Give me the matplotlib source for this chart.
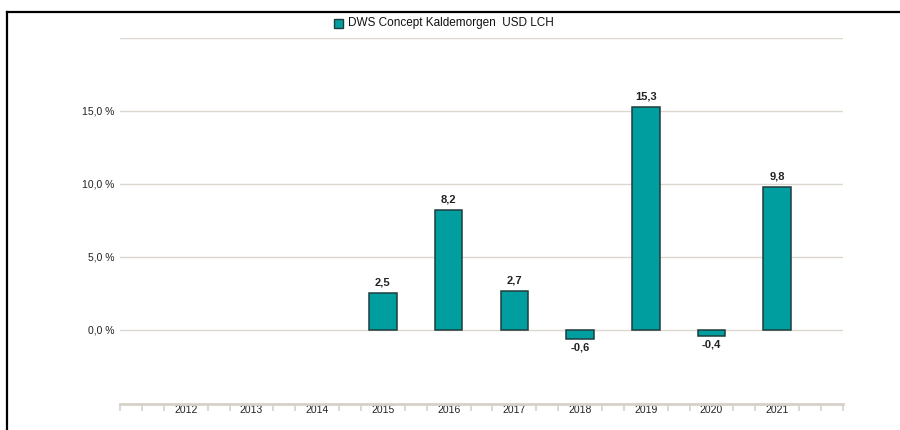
import matplotlib.pyplot as plt
from matplotlib.lines import Line2D
from matplotlib.patches import Rectangle

plt.rcParams['font.family'] = ['Liberation Sans', 'DejaVu Sans']

years = ['2012', '2013', '2014', '2015', '2016', '2017', '2018', '2019', '2020', '2021']
values = [None, None, None, 2.5, 8.2, 2.7, -0.6, 15.3, -0.4, 9.8]
yticks = [0, 5, 10, 15]
series_name = 'DWS Concept Kaldemorgen  USD LCH'

bar_color = '#009e9e'
edge_color = '#1f3d3d'
grid_color = '#dcd8d0'

fig = plt.figure(figsize=(9, 4.3), dpi=100)
ax = fig.add_axes([120/900, 1-404/430, (843-120)/900, (404-38)/430])

ax.set_xlim(-1, len(years))
ax.set_ylim(-5.07, 20)

for i, v in enumerate(values):
    if v is None:
        continue
    ax.bar(i, v, width=0.42, color=bar_color, edgecolor=edge_color, linewidth=1.1, zorder=3)
    lbl = ('%.1f' % v).replace('.', ',')
    if v >= 0:
        ax.annotate(lbl, (i, v), xytext=(0, 4), textcoords='offset points',
                    ha='center', va='bottom', fontsize=8, fontweight='bold', color='#222222')
    else:
        ax.annotate(lbl, (i, v), xytext=(0, -3), textcoords='offset points',
                    ha='center', va='top', fontsize=8, fontweight='bold', color='#222222')

# horizontal grid
for g in [0, 5, 10, 15, 20]:
    ax.axhline(g, color=grid_color, linewidth=1, zorder=1)

for s in ax.spines.values():
    s.set_visible(False)
ax.spines['bottom'].set_visible(True)
ax.spines['bottom'].set_color('#d6d2ca')
ax.spines['bottom'].set_linewidth(2)

ax.set_yticks(yticks)
ax.set_yticklabels([('%.1f' % t).replace('.', ',') + ' %' for t in yticks])
ax.tick_params(axis='y', length=0, pad=4, labelsize=7.5, labelcolor='#222222')

ax.set_xticks(range(len(years)))
ax.set_xticklabels(years)
ax.tick_params(axis='x', length=0, pad=1, labelsize=7.5, labelcolor='#222222')

# small ticks every third of a slot, skipping under the labels
minor = []
k = 0
while -1 + k/3 <= len(years) + 1e-9:
    p = -1 + k/3
    if not (k % 3 == 0 and 0 <= p <= len(years) - 1):
        minor.append(p)
    k += 1
ax.set_xticks(minor, minor=True)
ax.tick_params(axis='x', which='minor', length=5, width=1.2, color='#d6d2ca', direction='out')

# legend
fig.patches.append(Rectangle((334/900, 1-27.5/430), 9/900, 9/430, transform=fig.transFigure,
                             facecolor=bar_color, edgecolor=edge_color, linewidth=1))
fig.text(348/900, 1-23/430, series_name, fontsize=8.5, va='center', ha='left', color='#111111')

# frame lines
fig.add_artist(Line2D([7/900, 7/900], [0, 1-11.5/430], transform=fig.transFigure, color='black', linewidth=1.6))
fig.add_artist(Line2D([7/900, 1], [1-11.5/430, 1-11.5/430], transform=fig.transFigure, color='black', linewidth=1.6))

fig.savefig('out.png', dpi=100)
